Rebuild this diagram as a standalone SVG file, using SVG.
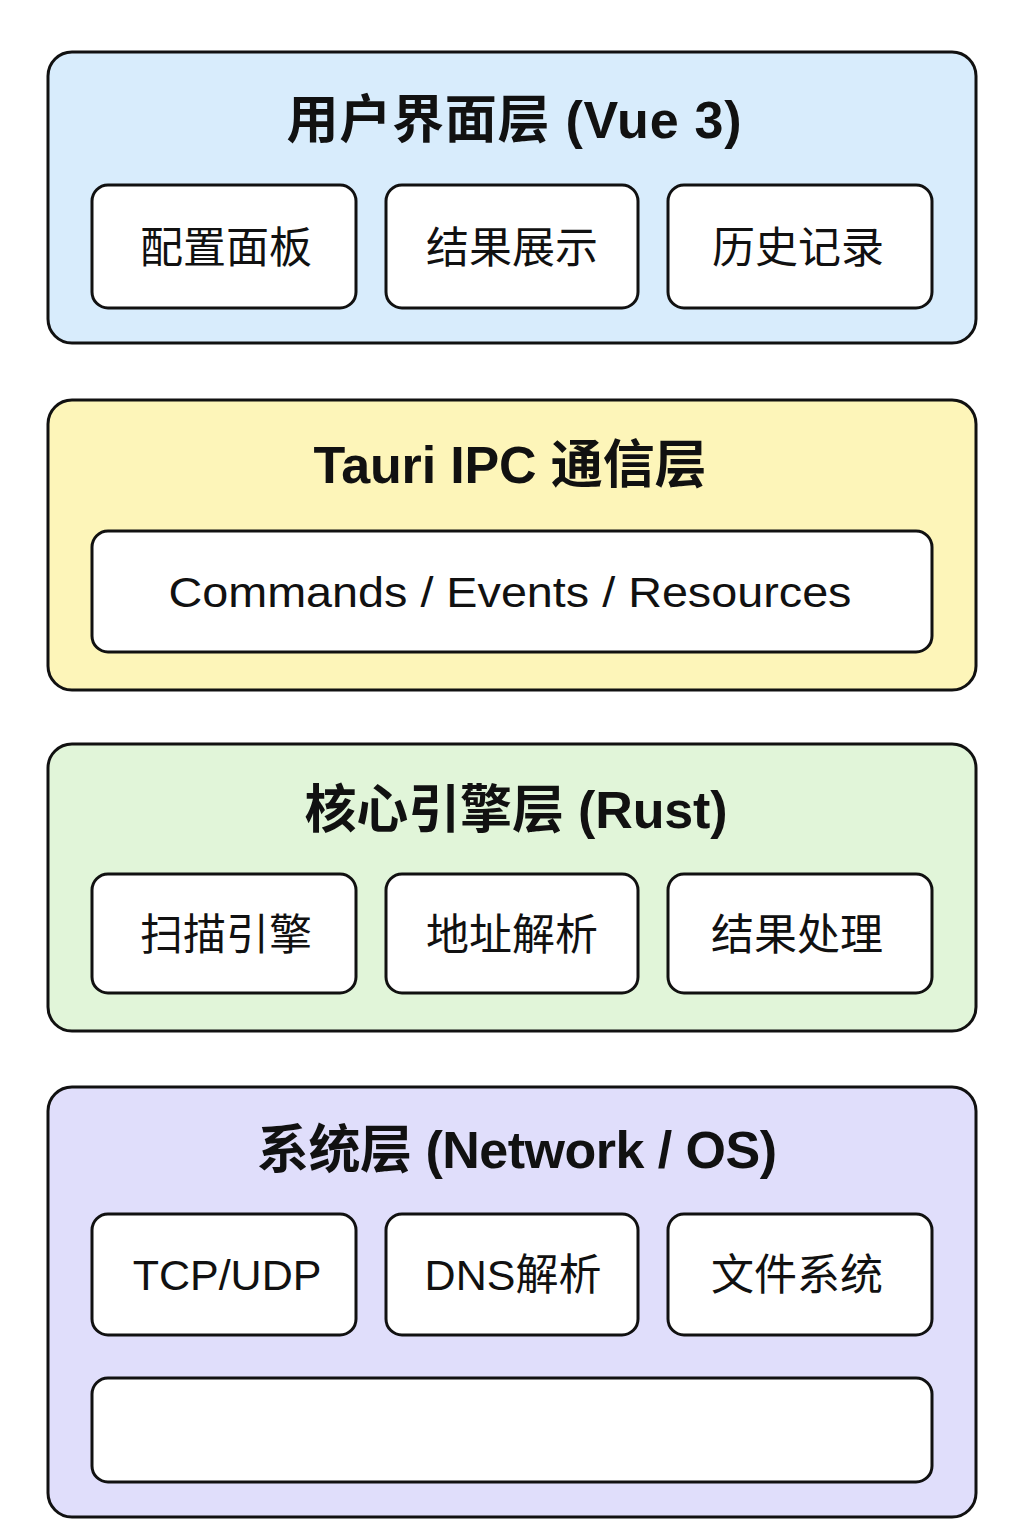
<svg xmlns="http://www.w3.org/2000/svg" width="1024" height="1536" viewBox="0 0 1024 1536">
<style>
.layer{stroke:#111;stroke-width:3}
.box{fill:#fff;stroke:#111;stroke-width:3}
.title{font-family:"Liberation Sans","Noto Sans CJK SC",sans-serif;font-size:52px;font-weight:bold;fill:#111;text-anchor:middle;dominant-baseline:central}
.label{font-family:"Liberation Sans","Noto Sans CJK SC",sans-serif;font-size:43px;fill:#111;text-anchor:middle;dominant-baseline:central}
</style>
<rect width="1024" height="1536" fill="#fff"/>
<g id="layer-ui">
<rect class="layer" x="48" y="52" width="928" height="291" rx="24" fill="#d8ecfc"/>
<text class="title" x="514" y="120" textLength="455" lengthAdjust="spacing">用户界面层 (Vue 3)</text>
</g>
<g id="node-config"><rect class="box" x="92" y="185" width="264" height="123" rx="16"/><text class="label" x="226" y="248">配置面板</text></g>
<g id="node-result"><rect class="box" x="386" y="185" width="252" height="123" rx="16"/><text class="label" x="512" y="248">结果展示</text></g>
<g id="node-history"><rect class="box" x="668" y="185" width="264" height="123" rx="16"/><text class="label" x="798" y="248">历史记录</text></g>

<g id="layer-ipc">
<rect class="layer" x="48" y="400" width="928" height="290" rx="24" fill="#fdf5b9"/>
<text class="title" x="510" y="465" textLength="393" lengthAdjust="spacing">Tauri IPC 通信层</text>
</g>
<g id="node-ipc"><rect class="box" x="92" y="531" width="840" height="121" rx="16"/><text class="label" x="510" y="592" textLength="683" lengthAdjust="spacingAndGlyphs">Commands / Events / Resources</text></g>

<g id="layer-core">
<rect class="layer" x="48" y="744" width="928" height="287" rx="24" fill="#e1f5d9"/>
<text class="title" x="516" y="810" textLength="423" lengthAdjust="spacing">核心引擎层 (Rust)</text>
</g>
<g id="node-scan"><rect class="box" x="92" y="874" width="264" height="119" rx="16"/><text class="label" x="226" y="935">扫描引擎</text></g>
<g id="node-parse"><rect class="box" x="386" y="874" width="252" height="119" rx="16"/><text class="label" x="512" y="935">地址解析</text></g>
<g id="node-process"><rect class="box" x="668" y="874" width="264" height="119" rx="16"/><text class="label" x="797" y="935">结果处理</text></g>

<g id="layer-sys">
<rect class="layer" x="48" y="1087" width="928" height="430" rx="24" fill="#e0defb"/>
<text class="title" x="517" y="1150" textLength="520" lengthAdjust="spacing">系统层 (Network / OS)</text>
</g>
<g id="node-tcp"><rect class="box" x="92" y="1214" width="264" height="121" rx="16"/><text class="label" x="227" y="1275">TCP/UDP</text></g>
<g id="node-dns"><rect class="box" x="386" y="1214" width="252" height="121" rx="16"/><text class="label" x="513" y="1275">DNS解析</text></g>
<g id="node-fs"><rect class="box" x="668" y="1214" width="264" height="121" rx="16"/><text class="label" x="797" y="1275">文件系统</text></g>
<g id="node-empty"><rect class="box" x="92" y="1378" width="840" height="104" rx="16"/></g>
<g id="connectors"></g>
</svg>
